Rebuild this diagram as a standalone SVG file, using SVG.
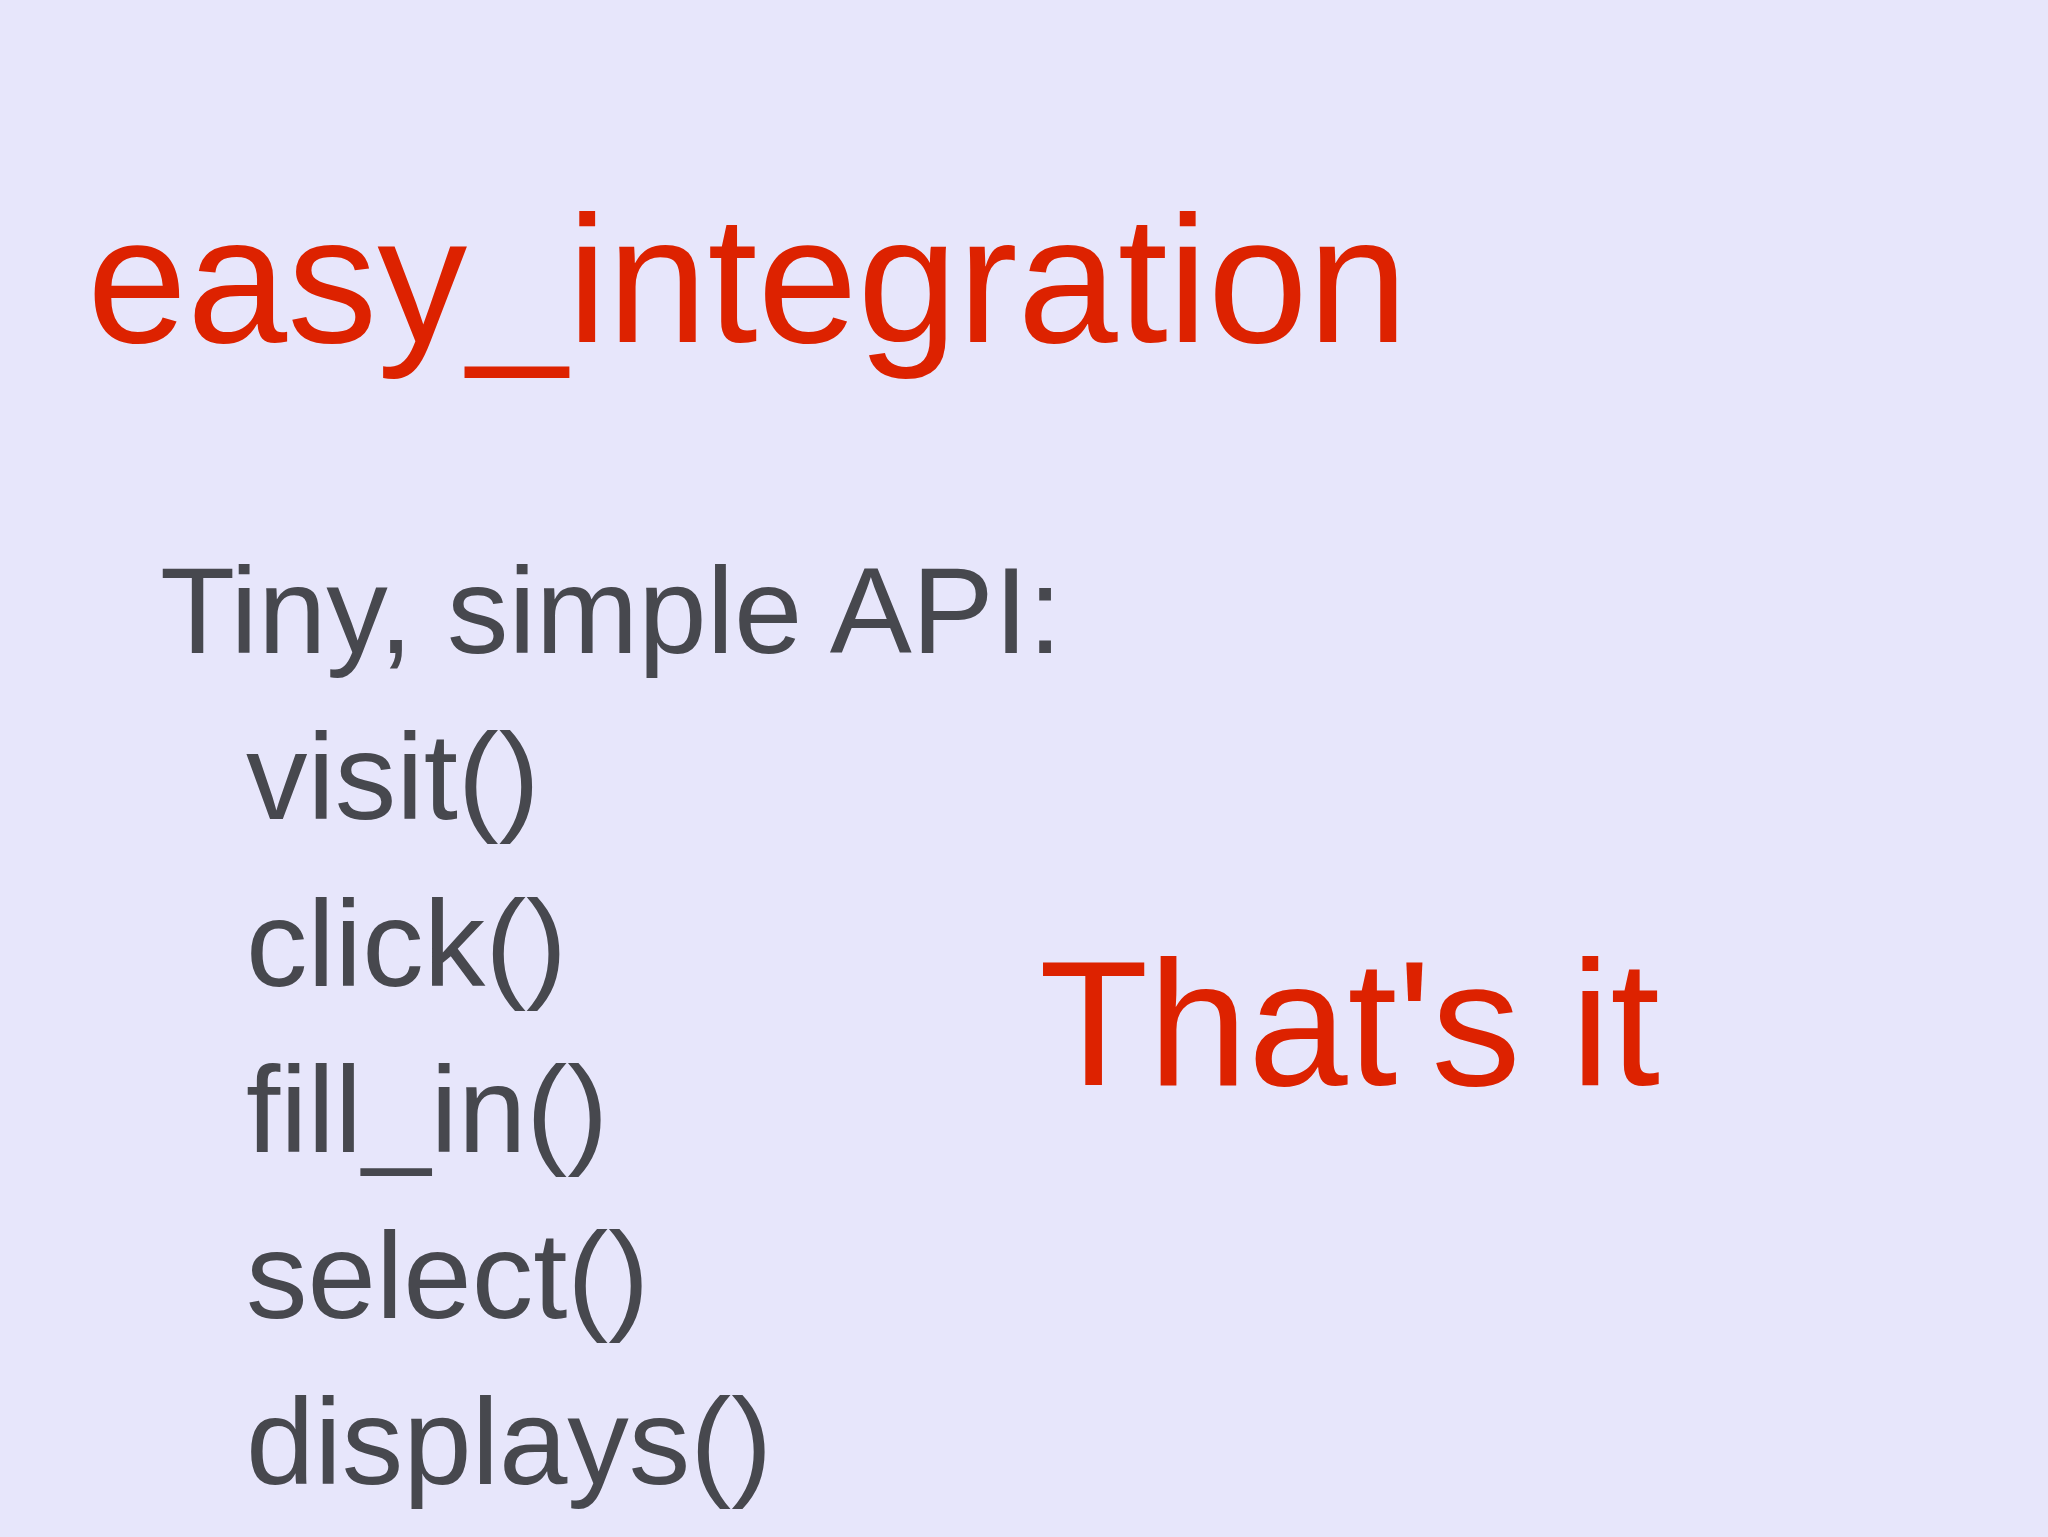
<svg xmlns="http://www.w3.org/2000/svg" width="2048" height="1537" viewBox="0 0 2048 1537">
<style>
.r{fill:#dd2200;font-family:"Liberation Sans",Arial,sans-serif}
.g{fill:#47484e;font-family:"Liberation Sans",Arial,sans-serif;font-size:123px}
</style>
<rect width="2048" height="1537" fill="#e7e6fb"/>
<g id="title"><text class="r" x="87" y="342" font-size="180">easy_integration</text></g>
<g id="api">
<text class="g" x="160" y="653">Tiny, simple API:</text>
<text class="g" x="246" y="819">visit()</text>
<text class="g" x="246" y="986">click()</text>
<text class="g" x="246" y="1152">fill_in()</text>
<text class="g" x="246" y="1318">select()</text>
<text class="g" x="246" y="1484">displays()</text>
</g>
<g id="thats"><text class="r" x="1039" y="1085" font-size="179">That's it</text></g>
</svg>
